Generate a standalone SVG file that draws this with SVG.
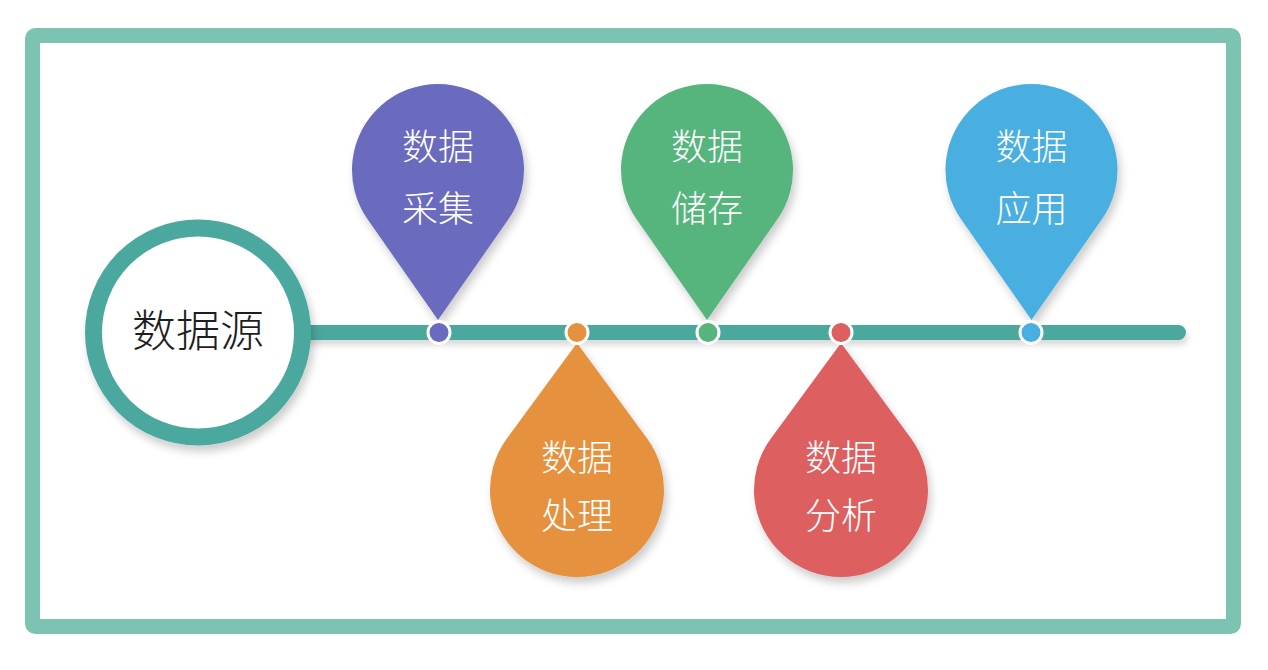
<svg xmlns="http://www.w3.org/2000/svg" width="1268" height="670" viewBox="0 0 1268 670">
<defs>
<filter id="sh" x="-30%" y="-30%" width="160%" height="160%">
<feDropShadow dx="3" dy="6" stdDeviation="4" flood-color="#000" flood-opacity="0.2"/>
</filter>
<filter id="shl" filterUnits="userSpaceOnUse" x="280" y="300" width="940" height="80">
<feDropShadow dx="2" dy="5" stdDeviation="3" flood-color="#000" flood-opacity="0.15"/>
</filter>
<style>
.lbl{font-family:"Noto Sans CJK SC","Noto Sans",sans-serif;font-size:36px;font-weight:300;fill:#fff;text-anchor:middle}
.dot{stroke:#fff;stroke-width:3}
</style>
</defs>
<rect width="1268" height="670" fill="#fff"/>
<rect id="frame" x="32.5" y="35.5" width="1201" height="591" rx="3" fill="#fff" stroke="#7CC3B2" stroke-width="15"/>
<g id="connectors">
<rect x="300" y="325" width="886" height="15" rx="7.5" fill="#4BA89E" filter="url(#shl)"/>
</g>
<g id="source">
<circle cx="198" cy="332.5" r="104.5" fill="#fff" stroke="#4BA89E" stroke-width="17" filter="url(#sh)"/>
<text x="198" y="347" font-family="Noto Sans CJK SC,sans-serif" font-size="44" font-weight="300" fill="#1e1e1e" text-anchor="middle">数据源</text>
</g>
<g id="collect">
<path d="M438,320 L367.6,219.3 A86,86 0 1 1 508.4,219.3 Z" fill="#6A6BBE" filter="url(#sh)"/>
<circle class="dot" cx="439" cy="332.5" r="11" fill="#6A6BBE"/>
<text class="lbl" x="438" y="160">数据</text>
<text class="lbl" x="438" y="222">采集</text>
</g>
<g id="process">
<path d="M577,343 L506.9,438.5 A87,87 0 1 0 647.1,438.5 Z" fill="#E5913D" filter="url(#sh)"/>
<circle class="dot" cx="577" cy="332.5" r="11" fill="#E5913D"/>
<text class="lbl" x="577" y="471">数据</text>
<text class="lbl" x="577" y="529">处理</text>
</g>
<g id="store">
<path d="M707,320 L636.6,219.3 A86,86 0 1 1 777.4,219.3 Z" fill="#55B57D" filter="url(#sh)"/>
<circle class="dot" cx="708" cy="332.5" r="11" fill="#55B57D"/>
<text class="lbl" x="707" y="160">数据</text>
<text class="lbl" x="707" y="222">储存</text>
</g>
<g id="analyze">
<path d="M841,343 L770.9,438.5 A87,87 0 1 0 911.1,438.5 Z" fill="#DE5F5F" filter="url(#sh)"/>
<circle class="dot" cx="841" cy="332.5" r="11" fill="#DE5F5F"/>
<text class="lbl" x="841" y="471">数据</text>
<text class="lbl" x="841" y="529">分析</text>
</g>
<g id="apply">
<path d="M1031.5,320 L961.1,219.3 A86,86 0 1 1 1101.9,219.3 Z" fill="#4AAEE0" filter="url(#sh)"/>
<circle class="dot" cx="1031" cy="332.5" r="11" fill="#4AAEE0"/>
<text class="lbl" x="1031.5" y="160">数据</text>
<text class="lbl" x="1031.5" y="222">应用</text>
</g>
</svg>
